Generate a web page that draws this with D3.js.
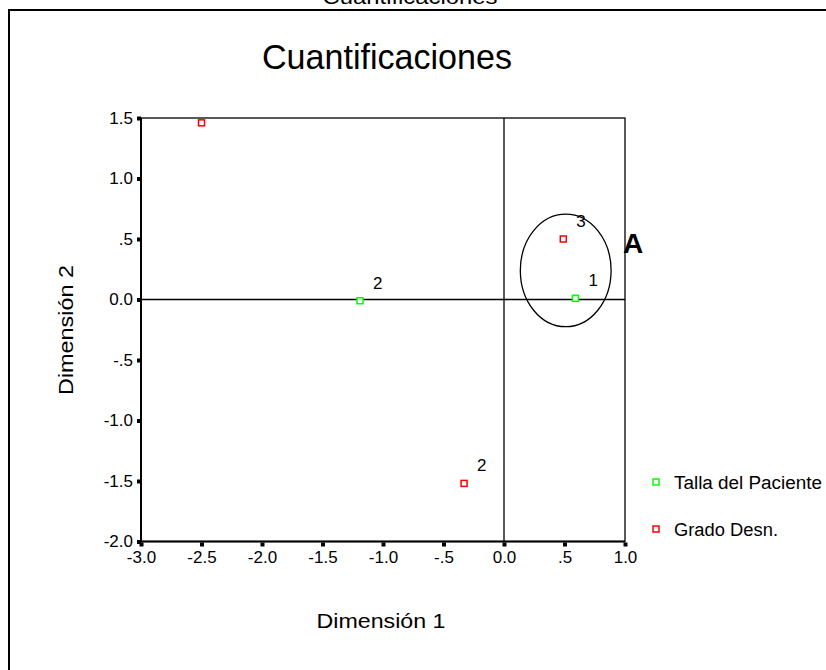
<!DOCTYPE html>
<html><head><meta charset="utf-8">
<script src="https://cdn.jsdelivr.net/npm/d3@7"></script>
<style>body{margin:0;background:#fff}svg{display:block}text{font-family:"Liberation Sans",Arial,sans-serif}</style>
</head><body>
<script>
const title = "Cuantificaciones";
const xTicks = [-3.0,-2.5,-2.0,-1.5,-1.0,-0.5,0.0,0.5,1.0];
const xTickLabels = ["-3.0","-2.5","-2.0","-1.5","-1.0","-.5","0.0",".5","1.0"];
const yTicks = [1.5,1.0,0.5,0.0,-0.5,-1.0,-1.5,-2.0];
const yTickLabels = ["1.5","1.0",".5","0.0","-.5","-1.0","-1.5","-2.0"];
const seriesNames = ["Talla del Paciente","Grado Desn."];
const seriesColors = ["#00ff00","#ff0000"];
const tallaX = [-1.19, 0.59];
const tallaY = [-0.01, 0.01];
const tallaLabels = ["2","1"];
const gradoX = [-2.50, -0.33, 0.49];
const gradoY = [1.46, -1.52, 0.50];
const gradoLabels = ["", "2", "3"];
const ellipse = {cx:0.51, cy:0.24, rx:0.375, ry:0.465};

const W=826,H=670;
const svg=d3.select("body").append("svg").attr("width",W).attr("height",H);
const x=d3.scaleLinear().domain([-3,1]).range([141,625]);
const y=d3.scaleLinear().domain([-2,1.5]).range([541.5,118]);

// outer frame (top and left visible)
svg.append("path").attr("d","M9,670 V10 H826").attr("fill","none").attr("stroke","#000").attr("stroke-width",2);
svg.append("text").attr("x",410).attr("y",4).attr("text-anchor","middle").attr("font-size",21)
  .attr("textLength",175).attr("lengthAdjust","spacingAndGlyphs").text(title);
svg.append("text").attr("x",387).attr("y",69).attr("text-anchor","middle").attr("font-size",35)
  .attr("textLength",250).attr("lengthAdjust","spacingAndGlyphs").text(title);

// plot frame
svg.append("rect").attr("x",x(-3)).attr("y",y(1.5)).attr("width",x(1)-x(-3)).attr("height",y(-2)-y(1.5))
  .attr("fill","none").attr("stroke","#000").attr("stroke-width",1.3);
svg.append("line").attr("x1",x(-3)).attr("x2",x(-3)).attr("y1",y(1.5)).attr("y2",y(-2)).attr("stroke","#000").attr("stroke-width",2);
svg.append("line").attr("x1",x(-3)).attr("x2",x(1)).attr("y1",y(-2)).attr("y2",y(-2)).attr("stroke","#000").attr("stroke-width",2);
// reference lines
svg.append("line").attr("x1",x(0)).attr("x2",x(0)).attr("y1",y(1.5)).attr("y2",y(-2)).attr("stroke","#000").attr("stroke-width",1.3);
svg.append("line").attr("x1",x(-3)).attr("x2",x(1)).attr("y1",y(0)).attr("y2",y(0)).attr("stroke","#000").attr("stroke-width",1.3);

// axes
const yAxis=d3.axisLeft(y).tickValues(yTicks).tickFormat((d,i)=>yTickLabels[i]).tickSize(0).tickPadding(8);
const gy=svg.append("g").attr("transform",`translate(${x(-3)},0)`).call(yAxis);
gy.select(".domain").remove();
gy.selectAll("text").attr("font-size",17).attr("fill","#000").attr("font-family","Liberation Sans, Arial, sans-serif");
gy.selectAll(".tick").append("rect").attr("x",-4).attr("y",-2).attr("width",4).attr("height",4).attr("fill","#000");
const xAxis=d3.axisBottom(x).tickValues(xTicks).tickFormat((d,i)=>xTickLabels[i]).tickSize(0).tickPadding(9);
const gx=svg.append("g").attr("transform",`translate(0,${y(-2)})`).call(xAxis);
gx.select(".domain").remove();
gx.selectAll("text").attr("font-size",17).attr("fill","#000").attr("font-family","Liberation Sans, Arial, sans-serif");
gx.selectAll(".tick").append("rect").attr("x",-2).attr("y",1).attr("width",4).attr("height",4).attr("fill","#000");

// axis titles
svg.append("text").attr("x",381).attr("y",628).attr("text-anchor","middle").attr("font-size",21)
  .attr("textLength",129).attr("lengthAdjust","spacingAndGlyphs").text("Dimensión 1");
svg.append("text").attr("transform","translate(73,330) rotate(-90)").attr("text-anchor","middle").attr("font-size",21)
  .attr("textLength",130).attr("lengthAdjust","spacingAndGlyphs").text("Dimensión 2");

// ellipse
svg.append("ellipse").attr("cx",x(ellipse.cx)).attr("cy",y(ellipse.cy))
  .attr("rx",x(ellipse.rx)-x(0)).attr("ry",y(0)-y(ellipse.ry))
  .attr("fill","none").attr("stroke","#000").attr("stroke-width",1.3);
svg.append("text").attr("x",633).attr("y",253).attr("text-anchor","middle").attr("font-size",28).attr("font-weight","bold").text("A");

// points
function drawSeries(xs,ys,labels,color){
  const g=svg.append("g");
  xs.forEach((xv,i)=>{
    g.append("rect").attr("x",x(xv)-3).attr("y",y(ys[i])-3).attr("width",6).attr("height",6)
      .attr("fill","#fff").attr("stroke",color).attr("stroke-width",1.5);
    if(labels[i]) g.append("text").attr("x",x(xv)+13).attr("y",y(ys[i])-12).attr("font-size",17).text(labels[i]);
  });
}
drawSeries(tallaX,tallaY,tallaLabels,seriesColors[0]);
drawSeries(gradoX,gradoY,gradoLabels,seriesColors[1]);

// legend
const legendLens=[148,104];
seriesNames.forEach((n,i)=>{
  const yy=482+i*47;
  svg.append("rect").attr("x",653).attr("y",yy-3).attr("width",6).attr("height",6)
    .attr("fill","#fff").attr("stroke",seriesColors[i]).attr("stroke-width",1.5);
  svg.append("text").attr("x",674).attr("y",yy+7).attr("font-size",18)
    .attr("textLength",legendLens[i]).attr("lengthAdjust","spacingAndGlyphs").text(n);
});
</script>
</body></html>
